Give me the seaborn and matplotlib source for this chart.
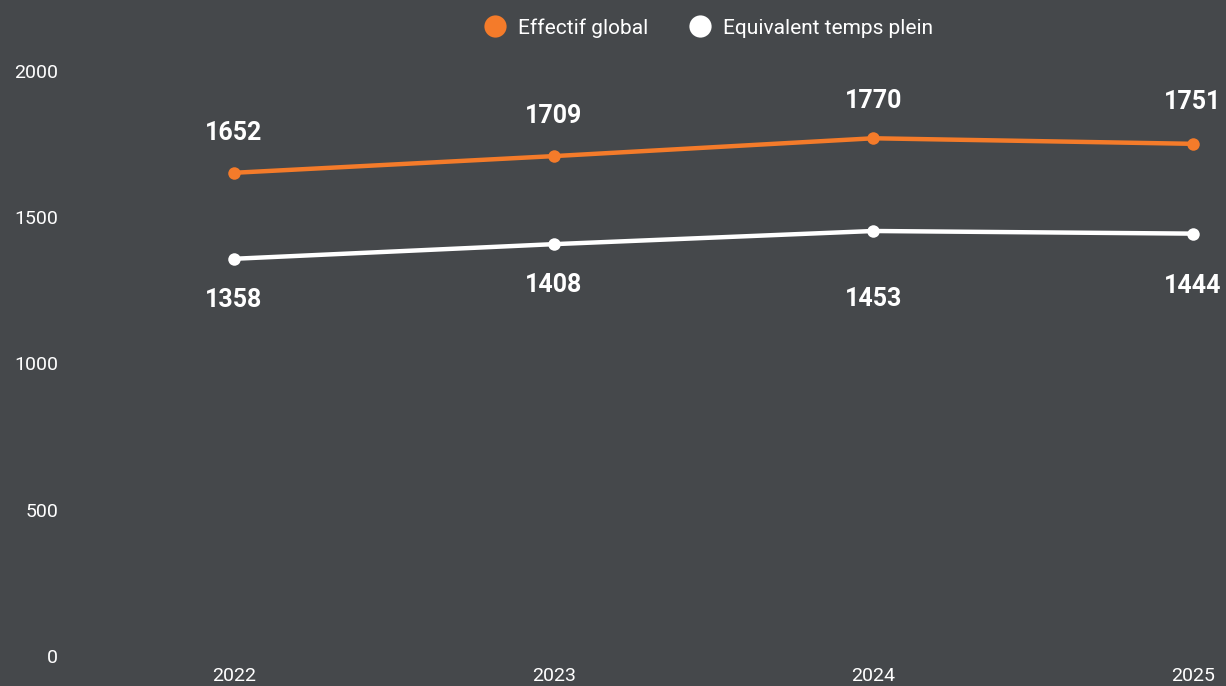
import pandas as pd
import matplotlib.pyplot as plt
import seaborn as sns
from matplotlib.lines import Line2D

# Data
years = [2022, 2023, 2024, 2025]
effectif_global = [1652, 1709, 1770, 1751]
etp = [1358, 1408, 1453, 1444]
series_names = ["Effectif global", "Equivalent temps plein"]
colors = ["#f47b2a", "#ffffff"]
y_ticks = [0, 500, 1000, 1500, 2000]

# label offsets in pixels (as placed in the original)
off_global = [40, 40, 37, 42]
off_etp = [-41, -41, -68, -52]

bg = "#45484b"

df = pd.DataFrame({
    "Année": years * 2,
    "Valeur": effectif_global + etp,
    "Série": [series_names[0]] * 4 + [series_names[1]] * 4,
})

sns.set_style("white")
plt.rcParams["font.family"] = ["Roboto", "DejaVu Sans"]

fig = plt.figure(figsize=(12.26, 6.86), dpi=100, facecolor=bg)
ax = fig.add_axes([75 / 1226, 30 / 686, 1 - 75 / 1226, 585 / 686])
ax.set_facecolor(bg)

sns.lineplot(data=df, x="Année", y="Valeur", hue="Série", palette=colors,
             marker="o", markersize=9, markeredgewidth=0, linewidth=3.2,
             legend=False, ax=ax)

# Value labels
for vals, offs in [(effectif_global, off_global), (etp, off_etp)]:
    for x, v, o in zip(years, vals, offs):
        ax.annotate(str(v), (x, v), xytext=(0, o), textcoords="offset pixels",
                    ha="center", va="center", color="white", fontsize=18,
                    fontweight="bold")

px = 1 / 319.7
ax.set_xlim(2022 - 159 * px, 2025 + 33 * px)
ax.set_ylim(0, 2000)
ax.set_xticks(years)
ax.set_yticks(y_ticks)
ax.tick_params(axis="both", length=0, colors="white", labelsize=14)
ax.tick_params(axis="y", pad=12)
ax.tick_params(axis="x", pad=8)
ax.set_xlabel("")
ax.set_ylabel("")
for s in ax.spines.values():
    s.set_visible(False)
ax.grid(False)

handles = [Line2D([], [], marker="o", linestyle="", markersize=16,
                  markerfacecolor=c, markeredgewidth=0) for c in colors]
fig.legend(handles, series_names, loc="center", bbox_to_anchor=(0.574, 1 - 28 / 686),
           ncol=2, frameon=False, fontsize=15, labelcolor="white",
           handletextpad=0.1, columnspacing=1.5)

fig.savefig("out.png", dpi=100, facecolor=bg)
